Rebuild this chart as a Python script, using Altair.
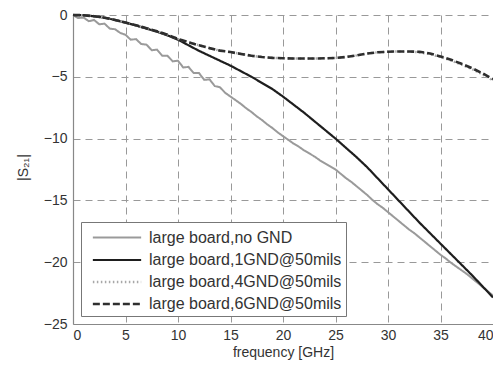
import altair as alt
import pandas as pd

series_names = [
    "large board,no GND",
    "large board,1GND@50mils",
    "large board,4GND@50mils",
    "large board,6GND@50mils",
]

freq_fine = [i * 0.5 for i in range(81)]
no_gnd = [0, -0.25, -0.2, -0.5, -0.4, -0.75, -0.7, -1.1, -1.15, -1.45,
          -1.6, -2.0, -1.95, -2.35, -2.4, -2.85, -2.8, -3.3, -3.3, -3.75,
          -3.7, -4.25, -4.2, -4.7, -4.7, -5.25, -5.2, -5.75, -5.85, -6.3,
          -6.6, -6.9, -7.2, -7.55, -7.85, -8.2, -8.5, -8.85, -9.15, -9.5,
          -9.8, -10.1, -10.4, -10.65, -10.95, -11.2, -11.45, -11.75, -12.0, -12.25,
          -12.5, -12.85, -13.2, -13.5, -13.85, -14.2, -14.55, -14.95, -15.3, -15.6,
          -15.95, -16.3, -16.65, -17.0, -17.35, -17.65, -18.0, -18.35, -18.7, -19.05,
          -19.4, -19.7, -20.05, -20.35, -20.65, -20.95, -21.3, -21.65, -22.0, -22.35,
          -22.7]

freq = list(range(41))
gnd1 = [0, -0.02, -0.1, -0.22, -0.4, -0.62, -0.85, -1.1, -1.35, -1.65,
        -2.0, -2.45, -2.9, -3.3, -3.7, -4.1, -4.55, -5.0, -5.5, -6.0,
        -6.6, -7.25, -7.9, -8.6, -9.3, -10.0, -10.75, -11.5, -12.3, -13.2,
        -14.1, -15.0, -15.9, -16.8, -17.65, -18.5, -19.35, -20.2, -21.05, -21.95,
        -22.85]
gnd6 = [0, -0.02, -0.1, -0.22, -0.4, -0.6, -0.83, -1.07, -1.32, -1.6,
        -1.93, -2.2, -2.45, -2.68, -2.88, -3.0, -3.15, -3.3, -3.4, -3.47,
        -3.5, -3.52, -3.52, -3.52, -3.5, -3.48, -3.4, -3.27, -3.12, -3.02,
        -2.97, -2.95, -2.95, -2.98, -3.12, -3.35, -3.62, -3.95, -4.3, -4.72,
        -5.2]
gnd4 = [0, -0.02, -0.1, -0.22, -0.4, -0.6, -0.83, -1.07, -1.32, -1.6,
        -1.93, -2.2, -2.45, -2.68, -2.88, -3.0, -3.15, -3.3, -3.4, -3.47,
        -3.5, -3.52, -3.52, -3.52, -3.5, -3.48, -3.4, -3.27, -3.12, -3.02,
        -2.97, -2.95, -2.97, -3.02, -3.17, -3.4, -3.68, -4.02, -4.38, -4.8,
        -5.3]

rows = []
for f, v in zip(freq_fine, no_gnd):
    rows.append({"f": f, "s": v, "series": series_names[0], "ord": 0})
for f, v in zip(freq, gnd1):
    rows.append({"f": f, "s": v, "series": series_names[1], "ord": 1})
for f, v in zip(freq, gnd4):
    rows.append({"f": f, "s": v, "series": series_names[2], "ord": 2})
for f, v in zip(freq, gnd6):
    rows.append({"f": f, "s": v, "series": series_names[3], "ord": 3})
df = pd.DataFrame(rows)

colors = ["#9a9a9a", "#1e1e1e", "#a8a8a8", "#2e2e2e"]
dashes = [[1, 0], [1, 0], [1.5, 2.5], [7, 3]]
widths = [2, 2.6, 2, 2.6]

chart = alt.Chart(df).mark_line().encode(
    x=alt.X("f:Q", title="frequency [GHz]",
            scale=alt.Scale(domain=[0, 40], nice=False),
            axis=alt.Axis(values=list(range(0, 41, 5)))),
    y=alt.Y("s:Q", title="|S₂₁|",
            scale=alt.Scale(domain=[-25, 0], nice=False),
            axis=alt.Axis(values=list(range(-25, 1, 5)), titleX=-50, titleY=152,
                          titleAlign="center", titleBaseline="middle")),
    color=alt.Color("series:N", title=None,
                    scale=alt.Scale(domain=series_names, range=colors),
                    legend=alt.Legend(orient="none", legendX=8, legendY=207,
                                      symbolType="M-2.3,0H2.3", symbolSize=441,
                                      symbolOffset=20, symbolStrokeWidth=2.5,
                                      labelFontSize=16, labelColor="#333",
                                      labelFont="Liberation Sans", labelLimit=400,
                                      strokeColor="#777", fillColor="white",
                                      padding=4, rowPadding=2, labelOffset=20)),
    strokeDash=alt.StrokeDash("series:N", title=None,
                              scale=alt.Scale(domain=series_names, range=dashes)),
    strokeWidth=alt.StrokeWidth("series:N",
                                scale=alt.Scale(domain=series_names, range=widths),
                                legend=None),
    order=alt.Order("ord:Q"),
).properties(
    width=420, height=309,
    autosize=alt.AutoSizeParams(type="none"),
    padding={"left": 65, "top": 7, "right": 0, "bottom": 36},
    background="white",
).configure_view(stroke=None).configure_axis(
    labelFont="Liberation Sans", labelFontSize=14, labelColor="#333",
    titleFont="Liberation Sans", titleFontSize=14, titleColor="#333",
    titleFontWeight="normal",
    domainColor="#888", domainWidth=1.2, ticks=False,
    grid=True, gridColor="#999", gridDash=[7, 5], gridWidth=1, gridOpacity=1,
    labelPadding=6,
).configure_axisX(labelPadding=4, titlePadding=3)

chart.save("out.html", embed_options={"renderer": "svg", "actions": False})
